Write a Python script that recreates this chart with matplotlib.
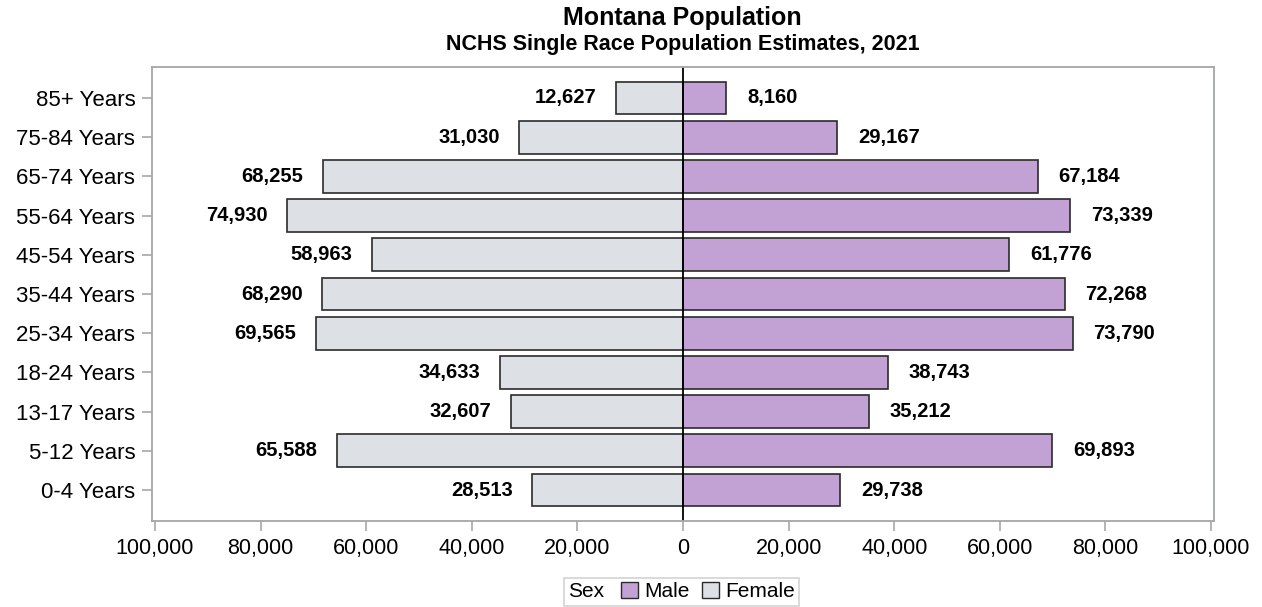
import matplotlib
matplotlib.use("Agg")
import matplotlib.pyplot as plt
from matplotlib.patches import Patch
from matplotlib.ticker import FuncFormatter
from matplotlib.offsetbox import HPacker

plt.rcParams['font.family'] = ['Liberation Sans', 'DejaVu Sans']

age_groups = ['0-4 Years', '5-12 Years', '13-17 Years', '18-24 Years', '25-34 Years',
              '35-44 Years', '45-54 Years', '55-64 Years', '65-74 Years', '75-84 Years',
              '85+ Years']
female = [28513, 65588, 32607, 34633, 69565, 68290, 58963, 74930, 68255, 31030, 12627]
male = [29738, 69893, 35212, 38743, 73790, 72268, 61776, 73339, 67184, 29167, 8160]

female_color = '#DDE0E5'
male_color = '#C2A2D4'
edge = '#2b2b2b'
frame = '#A3A7AB'

fig = plt.figure(figsize=(12.62, 6.07), dpi=100)
ax = fig.add_axes([0.1204, 0.1417, 0.8416, 0.7479])

y = list(range(len(age_groups)))
ax.barh(y, [-v for v in female], height=0.84, color=female_color, edgecolor=edge, linewidth=1.2)
ax.barh(y, male, height=0.84, color=male_color, edgecolor=edge, linewidth=1.2)
ax.axvline(0, color='black', linewidth=1.3)

# value labels, offset a bit away from the bar ends
for i in y:
    ax.annotate(f'{female[i]:,}', (-female[i], i), xytext=(-14, 0), textcoords='offset points',
                ha='right', va='center', fontsize=14.5, fontweight='bold')
    ax.annotate(f'{male[i]:,}', (male[i], i), xytext=(15, 0), textcoords='offset points',
                ha='left', va='center', fontsize=14.5, fontweight='bold')

ax.set_xlim(-100570, 100570)
ax.set_ylim(-0.79, 10.79)
ax.set_xticks(range(-100000, 100001, 20000))
ax.xaxis.set_major_formatter(FuncFormatter(lambda v, p: f'{abs(int(v)):,}'))
ax.set_yticks(y)
ax.set_yticklabels(age_groups)
ax.tick_params(axis='both', labelsize=15.5, color=frame, length=7, width=1.2, pad=5)
ax.tick_params(axis='y', labelsize=16)
for s in ax.spines.values():
    s.set_color(frame)
    s.set_linewidth(1.3)

fig.text(0.541, 0.97, 'Montana Population', ha='center', va='center', fontsize=18, fontweight='bold')
fig.text(0.541, 0.926, 'NCHS Single Race Population Estimates, 2021', ha='center', va='center',
         fontsize=15.5, fontweight='bold')

# legend with inline "Sex" title
handles = [Patch(facecolor=male_color, edgecolor=edge, label='Male'),
           Patch(facecolor=female_color, edgecolor=edge, label='Female')]
leg = fig.legend(handles=handles, title='Sex', title_fontsize=15, loc='center',
                 bbox_to_anchor=(0.54, 0.025), ncol=2, fontsize=15, frameon=True, fancybox=False,
                 handlelength=0.8, handleheight=0.8, handletextpad=0.3, columnspacing=0.6,
                 borderpad=0.2)
box = HPacker(pad=leg.borderpad * 15, sep=12, align='center',
              children=[leg._legend_title_box, leg._legend_handle_box])
box.set_figure(fig)
box.set_offset(leg._findoffset)
leg._legend_box = box
leg.get_frame().set_edgecolor('#C8C8C8')
leg.get_frame().set_linewidth(1.2)

fig.savefig('out.png', dpi=100)
